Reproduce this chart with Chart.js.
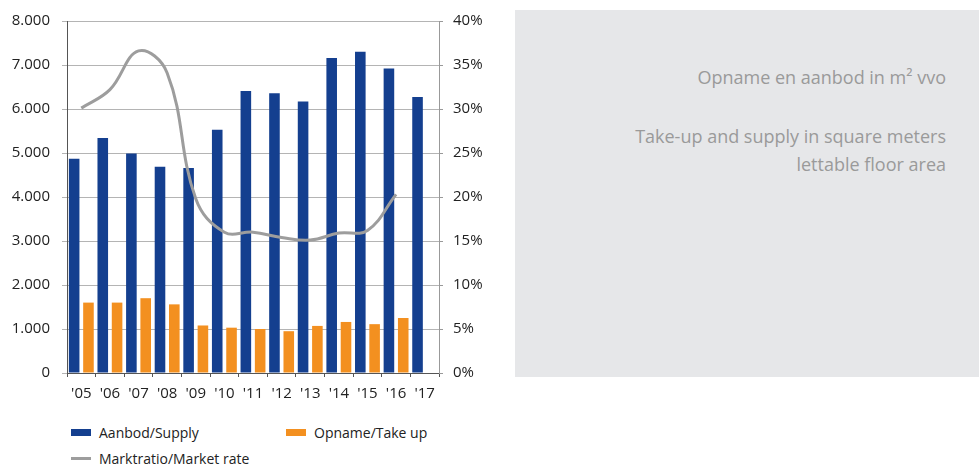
<!DOCTYPE html>
<html>
<head>
<meta charset="utf-8">
<script src="https://cdn.jsdelivr.net/npm/chart.js@4/dist/chart.umd.min.js"></script>
<style>
  body { margin: 0; background: #fff; font-family: "Open Sans", sans-serif; }
  #wrap { position: absolute; left: 0; top: 0; width: 500px; height: 410px; }
  #panel {
    position: absolute; left: 515px; top: 10px; width: 464px; height: 367px;
    background: #e6e7e9; color: #9a9a9a; font-weight: 400; font-size: 18px;
  }
  #panel p { margin: 0; line-height: 28px; position: absolute; right: 33px; white-space: nowrap; }
  .legend { position: absolute; font-size: 14px; color: #222; }
  .legend .key { position: absolute; left: 0; width: 20px; }
  .legend span { position: absolute; left: 28px; top: -10px; white-space: nowrap; }
</style>
</head>
<body>
<div id="wrap"><canvas id="myChart" width="500" height="410"></canvas></div>
<div id="legend"></div>
<div id="panel">
  <p style="top:53px;">Opname en aanbod in m² vvo</p>
  <p style="top:112px;">Take-up and supply in square meters</p>
  <p style="top:140px;">lettable floor area</p>
</div>
<script>
// years on the x axis
let _labels = ["'05", "'06", "'07", "'08", "'09", "'10", "'11", "'12", "'13", "'14", "'15", "'16", "'17"];
// aanbod (supply), m2 x 1000
let _supply = [4870, 5340, 4990, 4690, 4660, 5530, 6410, 6360, 6170, 7160, 7300, 6920, 6270];
// opname (take-up), no figure yet for '17
let _takeup = [1600, 1600, 1700, 1560, 1080, 1030, 1000, 950, 1070, 1160, 1110, 1250, null];
// marktratio in %
let _rate = [30.1, 32.2, 36.6, 34.1, 19.8, 16.0, 16.0, 15.4, 15.1, 15.9, 16.2, 20.3, null];

let _names = ['Aanbod/Supply', 'Opname/Take up', 'Marktratio/Market rate'];
let _colors = ['#143f8f', '#f39020', '#9d9d9d'];

var config = {
  type: 'bar',
  data: {
    labels: _labels,
    datasets: [{
      label: _names[0],
      data: _supply,
      backgroundColor: _colors[0],
      categoryPercentage: 1,
      barPercentage: 0.74,
      yAxisID: 'y',
      order: 1
    }, {
      label: _names[1],
      data: _takeup,
      backgroundColor: _colors[1],
      categoryPercentage: 1,
      barPercentage: 0.74,
      yAxisID: 'y',
      order: 1
    }, {
      type: 'line',
      label: _names[2],
      data: _rate,
      borderColor: _colors[2],
      borderWidth: 3,
      pointRadius: 0,
      tension: 0.4,
      yAxisID: 'y1',
      order: 0
    }]
  },
  options: {
    responsive: false,
    animation: false,
    layout: { padding: { top: 14, left: 0, right: 0, bottom: 0 } },
    plugins: { legend: { display: false }, tooltip: { enabled: false } },
    scales: {
      x: {
        grid: { drawOnChartArea: false, tickLength: 4, color: '#555', offset: true },
        border: { color: '#555' },
        ticks: { color: '#222', font: { family: 'Open Sans', size: 15 }, padding: 8 },
        afterFit: function(s) { s.height = 37; }
      },
      y: {
        position: 'left',
        min: 0, max: 8000,
        grid: { color: '#b4b4b4', tickLength: 5 },
        border: { color: '#555' },
        ticks: {
          stepSize: 1000, padding: 12, color: '#222',
          font: { family: 'Open Sans', size: 15 },
          callback: function(v) { return v.toLocaleString('nl-NL'); }
        },
        afterFit: function(s) { s.width = 67; }
      },
      y1: {
        position: 'right',
        min: 0, max: 40,
        grid: { drawOnChartArea: false, tickLength: 4, color: '#999' },
        border: { color: '#999' },
        ticks: {
          stepSize: 5, padding: 10, color: '#222',
          font: { family: 'Open Sans', size: 15 },
          callback: function(v) { return v + '%'; }
        },
        afterFit: function(s) { s.width = 61; }
      }
    }
  }
};

// legend under the chart, two columns
function draw_legend() {
  let spots = [[71, 433, 'box'], [286, 433, 'box'], [71, 459, 'line']];
  let html = '';
  for (let i = 0; i < _names.length; i++) {
    let p = spots[i];
    let key = p[2] == 'box'
      ? '<div class="key" style="top:-4px;height:7px;background:' + _colors[i] + '"></div>'
      : '<div class="key" style="top:-2px;height:3px;background:' + _colors[i] + '"></div>';
    html += '<div class="legend" style="left:' + p[0] + 'px;top:' + p[1] + 'px">' + key + '<span>' + _names[i] + '</span></div>';
  }
  document.getElementById('legend').innerHTML = html;
}

window.onload = function() {
  var ctx = document.getElementById("myChart").getContext("2d");
  window.myChart = new Chart(ctx, config);
  draw_legend();
};
</script>
</body>
</html>
